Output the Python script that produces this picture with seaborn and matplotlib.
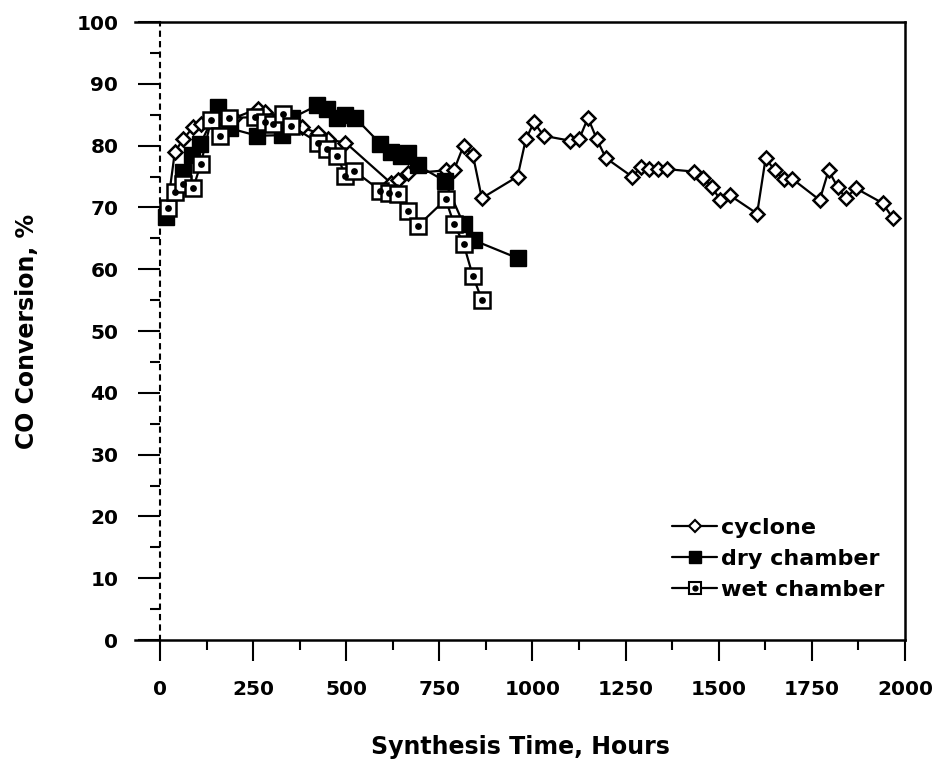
import matplotlib
matplotlib.use("Agg")
import matplotlib.pyplot as plt
import seaborn as sns
import numpy as np
from matplotlib.lines import Line2D
from matplotlib.legend_handler import HandlerTuple
from matplotlib.ticker import MultipleLocator

# ---- data ----
cyclone_hours = [20, 40, 62, 89, 110, 150, 200, 264, 283, 330, 380, 425, 450, 498,
                 619, 640, 667, 767, 789, 815, 840, 864, 960, 982, 1004, 1030, 1101,
                 1125, 1149, 1173, 1197, 1267, 1292, 1313, 1337, 1361, 1434, 1458,
                 1482, 1504, 1529, 1603, 1626, 1650, 1674, 1698, 1771, 1795, 1819,
                 1841, 1868, 1940, 1967]
cyclone_conv = [70, 79, 81, 83, 83.5, 84, 84.5, 86, 85.5, 84.5, 83, 82, 81, 80.5,
                74, 74.5, 75.5, 76, 76, 80, 78.5, 71.5, 75, 81, 83.8, 81.6, 80.8,
                81, 84.5, 81, 78, 75, 76.5, 76.2, 76.2, 76.2, 75.8, 74.8,
                73.3, 71.2, 72, 69, 78, 76, 74.6, 74.6, 71.2, 76, 73.3,
                71.5, 73.1, 70.7, 68.3]

dry_hours = [15, 62, 86, 108, 156, 188, 261, 328, 355, 422, 449, 476, 497, 524,
             592, 619, 646, 667, 692, 764, 815, 842, 960]
dry_conv = [68.5, 75.7, 78.5, 80.2, 86.3, 82.8, 81.6, 81.7, 84.5, 86.5, 86, 84.5, 85, 84.5,
            80.3, 79, 78.3, 78.8, 76.8, 74.3, 67.3, 64.7, 61.8]

wet_hours = [22, 40, 62, 89, 110, 137, 160, 186, 256, 283, 304, 331, 352, 425, 449,
             476, 498, 522, 592, 616, 640, 667, 692, 767, 789, 815, 840, 864]
wet_conv = [69.9, 72.5, 73.8, 73.1, 77.1, 84.1, 81.6, 84.5, 84.6, 83.8, 83.5, 85.2, 83.2,
            80.5, 79.5, 78.3, 75.1, 75.9, 72.7, 72.3, 72.1, 69.4, 67, 71.3, 67.4, 64.1,
            58.9, 55.1]

x_ticks = [0, 250, 500, 750, 1000, 1250, 1500, 1750, 2000]
y_ticks = [0, 10, 20, 30, 40, 50, 60, 70, 80, 90, 100]

series_labels = ["cyclone", "dry chamber", "wet chamber"]

# ---- style ----
sns.set_theme(style="white")
plt.rcParams['font.family'] = ['DejaVu Sans']
plt.rcParams['font.weight'] = 'bold'
for k in ['text.color', 'axes.labelcolor', 'xtick.color', 'ytick.color']:
    plt.rcParams[k] = 'black'

fig = plt.figure(figsize=(9.35, 7.74), dpi=100)
ax = fig.add_axes([0.1444, 0.1731, 0.8235, 0.7984])

lw = 1.6
sns.lineplot(x=cyclone_hours, y=cyclone_conv, ax=ax, color='black', lw=lw,
             marker='D', markersize=7.5, markerfacecolor='white',
             markeredgecolor='black', markeredgewidth=1.8, estimator=None, zorder=2)
sns.lineplot(x=dry_hours, y=dry_conv, ax=ax, color='black', lw=lw,
             marker='s', markersize=11, markerfacecolor='black',
             markeredgecolor='black', markeredgewidth=1.0, estimator=None, zorder=3)
sns.lineplot(x=wet_hours, y=wet_conv, ax=ax, color='black', lw=lw,
             marker='s', markersize=11, markerfacecolor='white',
             markeredgecolor='black', markeredgewidth=1.8, estimator=None, zorder=4)
sns.scatterplot(x=wet_hours, y=wet_conv, ax=ax, color='black', s=24,
                edgecolor='black', linewidth=0, zorder=5)

ax.set_xlim(-67, 2000)
ax.set_ylim(0, 100)

ax.xaxis.set_minor_locator(MultipleLocator(125))
ax.yaxis.set_minor_locator(MultipleLocator(5))
ax.set_xticks(x_ticks)
ax.set_yticks(y_ticks)
ax.set_xticklabels([str(t) for t in x_ticks])
ax.set_yticklabels([str(t) for t in y_ticks])

ax.spines['left'].set_position(('data', 0))
ax.spines['left'].set_linestyle((0, (2, 3)))
ax.spines['left'].set_linewidth(1.5)
for s in ['top', 'bottom', 'right']:
    ax.spines[s].set_linewidth(1.8)
    ax.spines[s].set_color('black')
ax.spines['left'].set_color('black')

ax.tick_params(axis='y', which='major', direction='out', length=16, width=1.5,
               left=True, pad=14, colors='black', labelsize=14.5)
ax.tick_params(axis='y', which='minor', direction='out', length=7, width=1.5,
               left=True)
ax.tick_params(axis='x', which='major', direction='out', length=15, width=1.5,
               bottom=True, pad=14, colors='black', labelsize=14.5)
ax.tick_params(axis='x', which='minor', direction='out', length=7, width=1.5,
               bottom=True)
for lab in ax.get_xticklabels() + ax.get_yticklabels():
    lab.set_fontweight('bold')

ax.set_xlabel("Synthesis Time, Hours", fontsize=17, fontweight='bold', labelpad=26)
ax.set_ylabel("CO Conversion, %", fontsize=17, fontweight='bold')
ax.yaxis.set_label_coords(-0.125, 0.5)

h_cyc = Line2D([], [], color='black', lw=lw, marker='D', markersize=6.5,
               markerfacecolor='white', markeredgecolor='black', markeredgewidth=1.5)
h_dry = Line2D([], [], color='black', lw=lw, marker='s', markersize=9,
               markerfacecolor='black', markeredgecolor='black')
h_wet_sq = Line2D([], [], color='black', lw=lw, marker='s', markersize=9,
                  markerfacecolor='white', markeredgecolor='black', markeredgewidth=1.5)
h_wet_dot = Line2D([], [], color='black', lw=0, marker='o', markersize=3.5,
                   markerfacecolor='black', markeredgecolor='black')
leg = ax.legend([h_cyc, h_dry, (h_wet_sq, h_wet_dot)], series_labels,
                handler_map={tuple: HandlerTuple(ndivide=1, pad=0)},
                loc='lower right', bbox_to_anchor=(0.985, 0.05), frameon=False,
                prop={'weight': 'bold', 'size': 16}, handlelength=2.0,
                handletextpad=0.2, labelspacing=0.5, borderaxespad=0)

fig.savefig("out.png", dpi=100)
